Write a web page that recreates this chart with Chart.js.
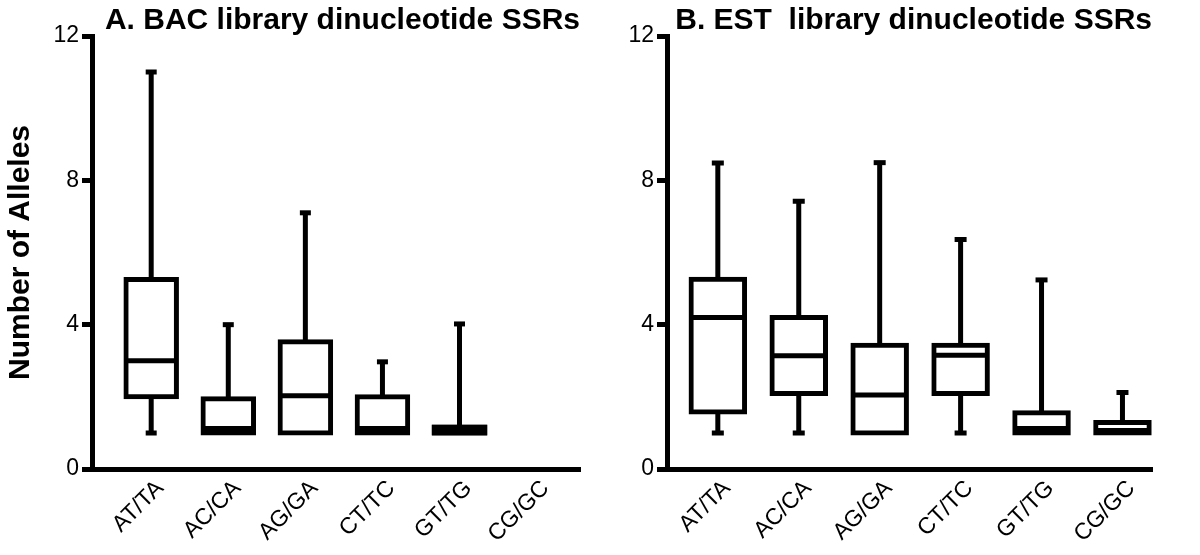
<!DOCTYPE html>
<html>
<head>
<meta charset="utf-8">
<script src="https://cdn.jsdelivr.net/npm/chart.js@4/dist/chart.umd.min.js"></script>
<style>
html, body { margin: 0; padding: 0; background: #fff; }
#wrap { position: relative; width: 1200px; height: 555px; overflow: hidden; }
canvas { position: absolute; top: 0; }
#cA { left: 0; }
#cB { left: 600px; }
</style>
</head>
<body>
<div id="wrap">
  <canvas id="cA" width="600" height="555"></canvas>
  <canvas id="cB" width="600" height="555"></canvas>
</div>
<script>
// ---- data ----
const categories = ['AT/TA', 'AC/CA', 'AG/GA', 'CT/TC', 'GT/TG', 'CG/GC'];
const yTicks = [0, 4, 8, 12];

const bacTitle = 'A. BAC library dinucleotide SSRs';
const bacMin    = [1,    1,    1,    1,    1,    null];
const bacQ1     = [2,    1,    1,    1,    1,    null];
const bacMedian = [3,    1.12, 2.03, 1.12, 1.08, null];
const bacQ3     = [5.25, 1.95, 3.53, 2.0,  1.16, null];
const bacMax    = [11,   4,    7.1,  2.97, 4.02, null];

const estTitle = 'B. EST  library dinucleotide SSRs';
const estMin    = [1,    1,    1,    1,    1,    1];
const estQ1     = [1.58, 2.09, 1,    2.09, 1,    1];
const estMedian = [4.2,  3.14, 2.05, 3.15, 1.12, 1.07];
const estQ3     = [5.26, 4.2,  3.43, 3.43, 1.56, 1.29];
const estMax    = [8.48, 7.42, 8.49, 6.36, 5.24, 2.12];

const yAxisTitle = 'Number of Alleles';

Chart.defaults.font.family = "'Liberation Sans', Arial, Helvetica, sans-serif";
Chart.defaults.color = '#000';

function makeBoxPlugin(stats, capWidth) {
  const LW = 5;
  return {
    id: 'boxWhiskers',
    beforeDatasetsDraw(chart) {
      const { ctx, scales: { x, y } } = chart;
      ctx.save();
      ctx.strokeStyle = '#000';
      ctx.lineWidth = LW;
      ctx.lineCap = 'butt';
      stats.min.forEach((mn, i) => {
        if (mn == null) return;
        const px = x.getPixelForValue(i);
        const yMin = y.getPixelForValue(stats.min[i]);
        const yQ1 = y.getPixelForValue(stats.q1[i]);
        const yQ3 = y.getPixelForValue(stats.q3[i]);
        const yMax = y.getPixelForValue(stats.max[i]);
        ctx.beginPath();
        ctx.moveTo(px, yQ3); ctx.lineTo(px, yMax);
        if (yMin > yQ1) { ctx.moveTo(px, yQ1); ctx.lineTo(px, yMin); }
        ctx.stroke();
        ctx.beginPath();
        ctx.moveTo(px - capWidth / 2, yMax); ctx.lineTo(px + capWidth / 2, yMax);
        if (yMin > yQ1) { ctx.moveTo(px - capWidth / 2, yMin); ctx.lineTo(px + capWidth / 2, yMin); }
        ctx.stroke();
      });
      ctx.restore();
    },
    afterDatasetsDraw(chart) {
      const { ctx, scales: { y } } = chart;
      const meta = chart.getDatasetMeta(0);
      ctx.save();
      ctx.strokeStyle = '#000';
      ctx.fillStyle = '#000';
      ctx.lineWidth = LW;
      stats.median.forEach((md, i) => {
        if (md == null) return;
        const el = meta.data[i];
        const yQ1 = y.getPixelForValue(stats.q1[i]);
        const yQ3 = y.getPixelForValue(stats.q3[i]);
        const half = el.width / 2 + LW / 2;
        if (yQ1 - yQ3 < 2 * LW) {
          // strokes overlap completely: the box reads as a solid band
          ctx.fillRect(el.x - half, yQ3 - LW / 2, 2 * half, (yQ1 - yQ3) + LW);
          return;
        }
        const py = y.getPixelForValue(md);
        ctx.beginPath();
        ctx.moveTo(el.x - el.width / 2, py);
        ctx.lineTo(el.x + el.width / 2, py);
        ctx.stroke();
      });
      ctx.restore();
    }
  };
}

function makeChart(id, title, stats, cfg) {
  const data = categories.map((c, i) => ({
    x: i,
    y: stats.q1[i] == null ? null : [stats.q1[i], stats.q3[i]]
  }));
  return new Chart(document.getElementById(id), {
    type: 'bar',
    data: {
      datasets: [{
        data: data,
        backgroundColor: '#fff',
        borderColor: '#000',
        borderWidth: 5,
        borderSkipped: false,
        inflateAmount: 2.5,
        barThickness: cfg.barThickness,
        clip: false
      }]
    },
    plugins: [makeBoxPlugin(stats, cfg.capWidth)],
    options: {
      responsive: false,
      animation: false,
      events: [],
      layout: { padding: { top: 6, right: cfg.rightPad, bottom: 0, left: 0 } },
      plugins: {
        legend: { display: false },
        tooltip: { enabled: false },
        title: {
          display: true,
          text: title,
          align: 'end',
          fullSize: false,
          color: '#000',
          font: { size: 30, weight: 'bold', lineHeight: 1 },
          padding: 0
        }
      },
      scales: {
        x: {
          type: 'linear',
          min: cfg.xMin,
          max: cfg.xMax,
          offset: false,
          bounds: 'data',
          afterBuildTicks: s => { s.ticks = categories.map((c, i) => ({ value: i })); },
          afterFit: s => { s.height = 86; },
          ticks: {
            autoSkip: false,
            minRotation: 45,
            maxRotation: 45,
            padding: 6,
            labelOffset: 9,
            font: { size: 23 },
            color: '#000',
            callback: v => categories[v] !== undefined ? categories[v] : ''
          },
          grid: { display: true, drawOnChartArea: false, drawTicks: false, lineWidth: 1, color: '#000' },
          border: { display: true, color: '#000', width: 5 }
        },
        y: {
          type: 'linear',
          min: 0,
          max: 12,
          afterBuildTicks: s => { s.ticks = yTicks.map(v => ({ value: v })); },
          afterFit: s => { s.width = cfg.yWidth; },
          ticks: { font: { size: 23 }, padding: 3, color: '#000' },
          grid: { display: true, drawOnChartArea: false, drawTicks: true, tickLength: 10, lineWidth: 5, tickWidth: 5, tickColor: '#000', color: '#000' },
          border: { display: true, color: '#000', width: 5 },
          title: {
            display: cfg.showYTitle,
            text: yAxisTitle,
            color: '#000',
            font: { size: 30, weight: 'bold' },
            padding: { top: 3, bottom: 0 }
          }
        }
      }
    }
  });
}

makeChart('cA', bacTitle,
  { min: bacMin, q1: bacQ1, median: bacMedian, q3: bacQ3, max: bacMax },
  { xMin: -0.768, xMax: 5.563, yWidth: 92, rightPad: 20, barThickness: 50.5, capWidth: 11, showYTitle: true });

makeChart('cB', estTitle,
  { min: estMin, q1: estQ1, median: estMedian, q3: estQ3, max: estMax },
  { xMin: -0.628, xMax: 5.365, yWidth: 67, rightPad: 48, barThickness: 53.5, capWidth: 12, showYTitle: false });
</script>
</body>
</html>
